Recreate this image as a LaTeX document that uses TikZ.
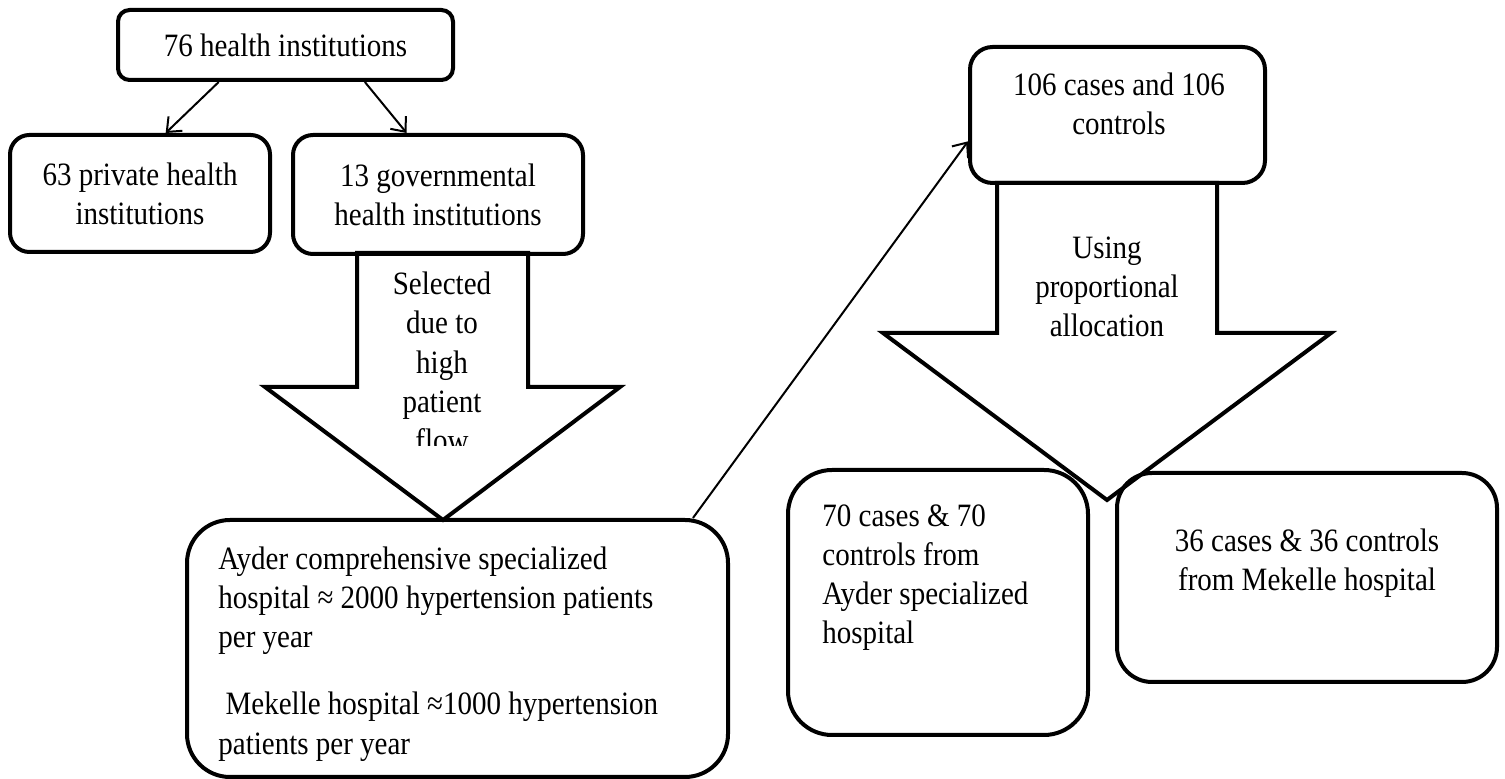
\documentclass[tikz,border=0pt]{standalone}
\usepackage{fontspec}
\setmainfont{Liberation Serif}[FakeStretch=0.89]
\usetikzlibrary{arrows.meta}

\begin{document}
\begin{tikzpicture}[x=0.5pt,y=-0.5pt,>={Straight Barb[length=6pt,width=10pt]},
  font=\fontsize{16.3}{19.6}\selectfont,
  box node/.style={draw,line width=2pt,align=center,inner sep=0pt},
  fat arrow/.style={draw,fill=white,line width=2pt,line join=miter},
  note/.style={align=left,inner sep=0pt}]

  \useasboundingbox (0,0) rectangle (1505,779);

  % block arrows first, boxes drawn over them
  \draw[fat arrow] (357,253) -- (528,253) -- (528,387) -- (620,387) -- (443,520)
    -- (265,387) -- (357,387) -- cycle;
  \draw[fat arrow] (997,183) -- (1217,183) -- (1217,333) -- (1331,333) -- (1107,500)
    -- (883,333) -- (997,333) -- cycle;

  \begin{scope}
    \clip (357,258) rectangle (528,446);
    \node[align=center] (sel) at (442,362) {Selected\\due to\\high\\patient\\flow};
  \end{scope}
  \node[align=center] (alloc) at (1107,287) {Using\\proportional\\allocation};

  \node[box node, minimum width=167.5pt, minimum height=35pt, rounded corners=5.8pt]
    (inst) at (285.5,45) {76 health institutions};
  \node[box node, minimum width=130pt, minimum height=58.5pt, rounded corners=9.7pt]
    (priv) at (140,193.5) {63 private health\\institutions};
  \node[box node, minimum width=145pt, minimum height=59.5pt, rounded corners=10pt]
    (gov) at (438,194.5) {13 governmental\\health institutions};
  \node[box node, minimum width=270.5pt, minimum height=128.5pt, rounded corners=21.5pt]
    (ayd) at (457.5,648.5) {};
  \node[box node, minimum width=147.5pt, minimum height=68pt, rounded corners=11.3pt]
    (cases) at (1117.5,115) {};
  \node[box node, minimum width=150pt, minimum height=132.5pt, rounded corners=22pt]
    (ayd70) at (938,602.5) {};
  \node[box node, minimum width=190pt, minimum height=104.5pt, rounded corners=17.5pt]
    (mek36) at (1307,577.5) {};

  \node[note, anchor=west] (ayd-t) at (218,654)
    {Ayder comprehensive specialized\\hospital ≈ 2000 hypertension patients\\per year\\[14pt]\ Mekelle hospital ≈1000 hypertension\\patients per year};
  \node[align=center] (cases-t) at (1119,104) {106 cases and 106\\controls};
  \node[note, anchor=west] (ayd70-t) at (822,577.5)
    {70 cases \& 70\\controls from\\Ayder specialized\\hospital};
  \node[align=center] (mek36-t) at (1307,563) {36 cases \& 36 controls\\from Mekelle hospital};

  \path[->, line width=1pt]
    (inst.209) edge (priv.67)
    (inst.335) edge (gov.117)
    (ayd.29) edge (cases.190);
\end{tikzpicture}
\end{document}
